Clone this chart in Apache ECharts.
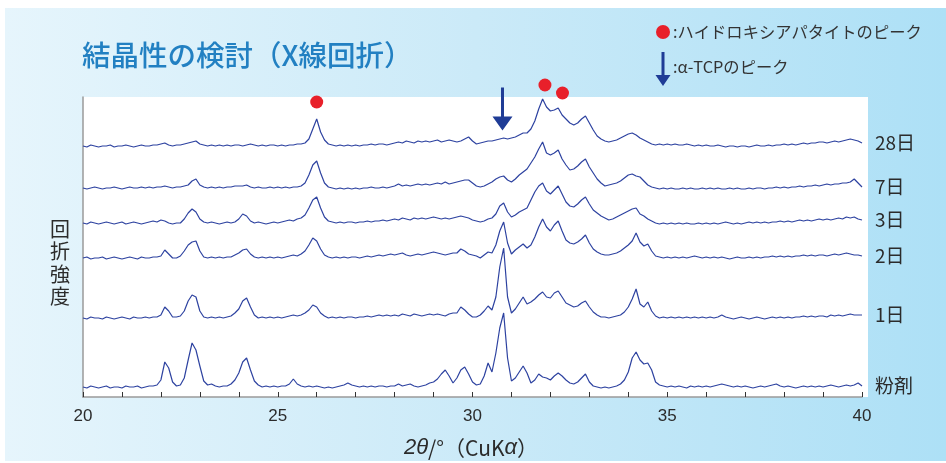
<!DOCTYPE html>
<html><head><meta charset="utf-8">
<script src="https://cdn.jsdelivr.net/npm/echarts@6/dist/echarts.min.js"></script>
<style>html,body{margin:0;padding:0;background:#fff}#c{width:946px;height:463px}</style>
</head><body><div id="c"></div>
<script>
// 2θ sampling grid (degrees)
const thetaStart = 20, thetaStep = 0.1, nPoints = 201;
const twoTheta = Array.from({length: nPoints}, (_, i) => +(thetaStart + i * thetaStep).toFixed(1));
const xTickLabels = [20, 25, 30, 35, 40];

const sampleNames = ['粉剤', '1日', '2日', '3日', '7日', '28日'];
const sampleOffsets = [9, 78, 138, 173, 208, 250];

// relative intensities, 20.0 .. 40.0 step 0.1
const powder = [
  1,0,2,1,0,1,2,0,1,1, 0,2,1,1,2,0,1,2,2,3,
  8,26,20,6,2,3,10,28,45,38, 22,7,3,4,2,1,2,2,4,8,
  15,26,30,18,7,3,1,2,1,2, 1,2,2,4,9,4,2,1,2,1,
  2,1,0,1,0,1,2,3,5,3, 2,1,2,1,2,1,2,2,1,2,
  2,4,2,3,4,2,1,2,3,5, 6,9,14,18,12,5,10,18,21,14,
  6,3,4,12,25,16,35,60,75,30, 7,10,16,22,15,5,8,14,11,10,
  8,12,15,12,8,5,4,6,10,14, 6,2,1,0,1,0,1,2,4,8,
  16,30,36,28,24,25,18,6,3,2, 1,2,1,2,1,0,2,1,2,1,
  2,1,2,3,4,3,2,1,2,1, 2,1,0,1,2,1,2,3,4,2,
  1,2,1,0,1,2,1,2,1,2, 1,2,3,2,1,2,3,2,3,5,
  2
];
const day1 = [
  1,0,2,1,1,0,2,1,0,1, 2,1,0,2,1,1,2,1,2,2,
  4,12,8,2,2,3,8,18,24,22, 8,2,1,2,1,2,1,2,3,6,
  10,18,21,12,4,1,2,1,2,1, 2,1,2,3,4,3,4,6,9,14,
  12,6,3,1,2,1,2,1,2,2, 1,2,2,3,2,3,4,3,4,3,
  4,3,5,4,3,5,4,3,4,5, 4,5,4,3,5,6,6,12,9,5,
  2,2,4,8,13,9,22,52,71,22, 6,10,16,22,15,17,20,24,27,22,
  21,26,28,22,16,14,12,13,16,18, 12,7,4,2,2,1,2,3,4,7,
  12,20,30,15,12,17,8,3,1,2, 1,2,1,2,1,2,1,2,1,2,
  1,2,1,2,4,2,1,0,1,2, 1,0,1,2,1,0,1,2,1,2,
  1,2,1,2,2,3,2,3,2,3, 3,2,4,3,4,3,4,5,4,4,
  4
];
const day2 = [
  1,2,0,1,1,2,0,1,2,1, 0,1,2,1,0,2,1,1,2,2,
  3,9,5,1,1,3,8,14,17,18, 8,2,1,2,1,2,1,2,2,4,
  6,9,10,5,2,1,2,1,2,1, 2,1,2,3,4,3,5,8,14,21,
  18,10,4,2,1,2,1,2,1,2, 2,1,2,3,2,3,4,3,4,5,
  4,5,6,4,3,4,5,4,5,6, 7,6,5,4,5,6,6,10,8,5,
  4,3,1,4,7,6,14,28,37,16, 5,9,12,15,11,14,22,32,40,32,
  28,34,38,28,19,16,15,17,20,24, 16,10,7,5,4,4,5,6,8,11,
  14,18,26,17,13,15,8,3,2,1, 2,1,2,1,2,1,2,3,2,1,
  2,1,2,1,2,1,0,1,2,1, 1,2,1,2,1,2,2,3,2,3,
  2,3,2,3,3,4,3,4,3,4, 4,3,4,5,4,5,6,5,4,4,
  3
];
const day3 = [
  1,0,2,1,0,1,2,1,0,1, 2,0,1,2,1,0,1,2,3,2,
  4,3,1,0,1,1,5,11,15,12, 5,2,1,2,1,0,1,2,1,2,
  5,10,8,3,1,2,1,0,1,2, 1,2,3,4,3,5,6,9,16,24,
  27,16,7,3,2,1,2,1,2,2, 1,2,2,3,2,3,3,4,3,4,
  5,4,6,5,4,6,5,6,5,6, 7,6,5,6,5,6,7,8,7,6,
  4,3,2,3,5,6,10,18,21,12, 7,9,12,14,16,24,32,38,41,33,
  30,34,38,30,22,18,17,20,24,27, 20,14,11,8,6,4,5,7,9,11,
  13,15,16,10,8,5,3,1,0,1, 0,1,0,1,0,1,0,0,1,0,
  1,0,1,0,1,2,1,0,1,0, 1,2,1,2,1,2,1,2,2,3,
  2,3,2,3,4,3,4,3,4,5, 4,5,4,5,6,5,7,6,7,5,
  4
];
const day7 = [
  1,0,1,2,1,0,1,1,2,1, 0,1,2,1,1,2,1,2,1,2,
  2,3,2,1,2,2,3,4,8,10, 4,2,1,2,1,2,1,2,2,3,
  3,3,4,2,1,2,1,1,2,1, 2,1,2,1,2,2,3,6,14,24,
  28,16,6,2,1,0,1,0,1,0, 1,0,1,1,2,1,1,2,1,2,
  3,5,3,4,3,4,5,4,5,4, 5,6,5,7,5,6,7,8,9,9,
  6,3,2,3,5,7,10,12,13,9, 7,10,14,17,20,26,32,40,47,36,
  34,36,39,30,24,19,20,23,27,30, 22,16,10,6,3,4,5,6,8,11,
  14,15,13,12,8,4,2,1,0,1, 0,1,0,0,1,0,1,0,0,1,
  0,1,0,1,0,0,1,0,1,0, 0,1,0,1,1,0,1,1,2,1,
  2,1,2,2,3,2,3,3,4,3, 4,5,4,5,5,6,6,7,10,6,
  2
];
const day28 = [
  1,0,2,1,0,1,1,2,0,1, 1,2,1,0,1,2,1,1,2,2,
  3,4,2,1,2,2,3,4,5,6, 3,2,1,2,1,2,1,2,1,2,
  2,1,2,3,2,1,2,1,2,2, 1,2,1,2,2,3,3,4,8,18,
  28,15,7,3,2,1,2,1,2,1, 2,1,2,2,3,2,3,3,2,3,
  4,5,4,6,5,4,6,5,6,5, 6,7,5,6,7,6,5,6,8,10,
  6,3,4,5,6,6,7,8,9,8, 9,10,12,14,14,18,26,38,48,40,
  36,37,39,32,28,24,22,24,28,31, 24,17,11,8,6,5,6,7,9,11,
  13,14,12,9,7,5,3,2,3,2, 3,2,3,2,2,3,2,1,2,1,
  2,1,1,2,1,0,1,1,0,1, 1,0,1,2,1,1,2,1,2,2,
  3,2,3,2,3,4,3,4,4,5, 5,4,5,6,5,6,7,8,7,6,
  4
];
const sampleValues = [powder, day1, day2, day3, day7, day28];

// peak markers [2θ, intensity level]
const hapPeaks = [[26.0, 295], [31.86, 312], [32.31, 304]];
const tcpPeaks = [[30.77, 288]];

const traceColor = '#2d42a0';
const cjk = '"Noto Sans CJK JP", sans-serif';
const lat = '"Liberation Sans", Arial, sans-serif';

const chart = echarts.init(document.getElementById('c'), null, {renderer: 'canvas'});

const lineSeries = sampleNames.map((name, k) => ({
  name: name,
  type: 'line',
  showSymbol: false,
  symbol: 'none',
  animation: false,
  lineStyle: {color: traceColor, width: 1.2},
  data: twoTheta.map((t, i) => [t, sampleOffsets[k] + sampleValues[k][i]]),
  endLabel: {
    show: true, formatter: '{a}', distance: 13,
    color: '#2b2b2b', fontSize: 19, fontFamily: cjk
  },
  z: 3
}));

const option = {
  backgroundColor: '#ffffff',
  animation: false,
  grid: {left: 83, right: 84, top: 97, bottom: 66, containLabel: false},
  xAxis: {
    type: 'value', min: 20, max: 40, interval: 1,
    axisLine: {show: true, lineStyle: {color: '#9a9a9a', width: 1.5}},
    axisTick: {show: true, inside: true, length: 5, lineStyle: {color: '#333', width: 1}},
    axisLabel: {
      color: '#2b2b2b', fontSize: 17, fontFamily: lat, margin: 11,
      formatter: v => xTickLabels.includes(v) ? String(v) : ''
    },
    splitLine: {show: false}
  },
  yAxis: {
    type: 'value', min: 0, max: 300,
    axisLine: {show: true, lineStyle: {color: '#9a9a9a', width: 1.5}},
    axisTick: {show: false}, axisLabel: {show: false}, splitLine: {show: false}
  },
  graphic: [
    {type: 'rect', z: -20, silent: true, shape: {x: 5, y: 8, width: 941, height: 453},
     style: {fill: new echarts.graphic.LinearGradient(0, 0, 1, 0, [
       {offset: 0, color: '#e6f5fc'}, {offset: 0.5, color: '#cbeaf8'}, {offset: 1, color: '#ade0f6'}])}},
    {type: 'rect', z: -10, silent: true, shape: {x: 83, y: 97, width: 785, height: 300},
     style: {fill: '#ffffff'}},
    {type: 'text', x: 82, y: 55, style: {text: '結晶性の検討（X線回折）', fill: '#2280c2',
      font: '500 28.5px ' + cjk, verticalAlign: 'middle'}},
    {type: 'circle', shape: {cx: 663, cy: 32, r: 7}, style: {fill: '#e8202a'}},
    {type: 'text', x: 673, y: 32, style: {text: ':ハイドロキシアパタイトのピーク', fill: '#333',
      font: '16.3px ' + cjk, verticalAlign: 'middle'}},
    {type: 'polygon', shape: {points: [[661.5, 52], [664.5, 52], [664.5, 75], [670.5, 75], [663, 86], [655.5, 75], [661.5, 75]]},
     style: {fill: '#1f3c96'}},
    {type: 'text', x: 673, y: 67, style: {text: ':α-TCPのピーク', fill: '#333',
      font: '16.3px ' + cjk, verticalAlign: 'middle'}},
    {type: 'text', x: 60, y: 263, style: {text: '回\n折\n強\n度', fill: '#2b2b2b',
      font: '20px ' + cjk, lineHeight: 22.5, align: 'center', verticalAlign: 'middle'}},
    {type: 'text', x: 471, y: 448, style: {
      text: '{i|2θ}{n|/°（CuK}{i|α}{n|）}', align: 'center', verticalAlign: 'middle',
      rich: {
        i: {font: 'italic 22px ' + lat, fill: '#2b2b2b'},
        n: {font: '21px ' + cjk, fill: '#2b2b2b'}
      }}}
  ],
  series: lineSeries.concat([
    {type: 'scatter', name: 'HAp', data: hapPeaks, symbol: 'circle', symbolSize: 13,
     clip: false, itemStyle: {color: '#e8202a', opacity: 1}, z: 5, silent: true},
    {type: 'scatter', name: 'TCP', data: tcpPeaks, clip: false, silent: true, z: 5,
     symbol: 'path://M8.5,0 L11.5,0 L11.5,29 L20,29 L10,43 L0,29 L8.5,29 Z',
     symbolSize: [20, 43], itemStyle: {color: '#1f3c96', opacity: 1}}
  ])
};
chart.setOption(option);
</script></body></html>
